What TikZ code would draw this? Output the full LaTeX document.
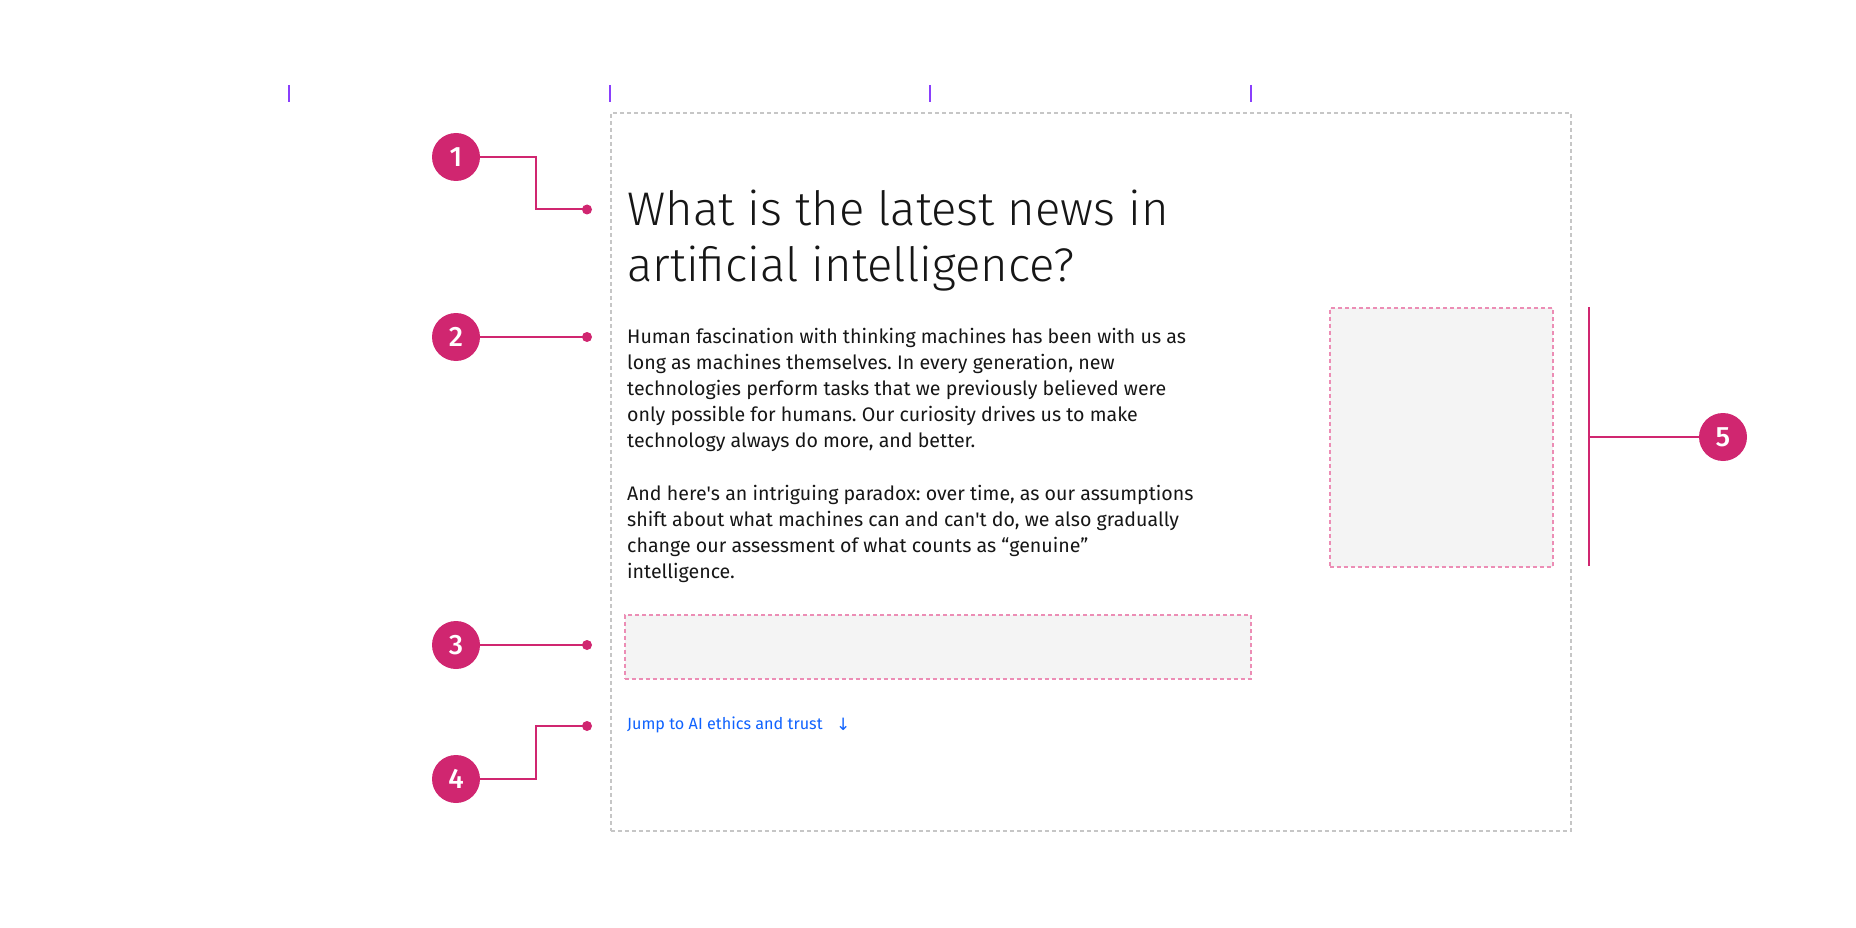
\documentclass[tikz,border=0pt]{standalone}
\usepackage{fontspec}
\setmainfont{Fira Sans}
\newfontfamily\headfont{Fira Sans Light}
\newfontfamily\numfont{Fira Sans Medium}
\newfontfamily\symfont{DejaVu Sans}
\definecolor{mag}{HTML}{D02670}
\definecolor{pinkdash}{HTML}{EC8DB5}
\definecolor{framegray}{HTML}{C6C6C6}
\definecolor{tickpurple}{HTML}{8A3FFC}
\definecolor{phfill}{HTML}{F4F4F4}
\definecolor{linkblue}{HTML}{0F62FE}
\definecolor{txt}{HTML}{161616}
\tikzset{
  callout/.style={circle,fill=mag,minimum size=48pt,inner sep=0pt,text=white,font=\numfont\fontsize{28}{28}\selectfont},
  leader/.style={draw=mag,line width=2pt},
  dotend/.style={circle,fill=mag,minimum size=10pt,inner sep=0pt},
  frame/.style={draw=framegray,line width=1.6pt,dash pattern=on 4pt off 3pt},
  placeholder/.style={draw=pinkdash,fill=phfill,line width=1.5pt,dash pattern=on 4pt off 3pt},
  tick/.style={draw=tickpurple,line width=1.3pt},
  headline/.style={anchor=base west,inner sep=0pt,text=txt,font=\headfont\fontsize{47.2}{56}\selectfont},
  bodyline/.style={anchor=base west,inner sep=0pt,text=txt,font=\frenchspacing\fontsize{19.6}{26}\selectfont},
}
\begin{document}
\begin{tikzpicture}[x=1pt,y=-1pt]
\useasboundingbox (0,0) rectangle (1856,928);
% ticks
\foreach \tx/\nm in {289/ta,610/tb,930/tc,1251/td}{
  \coordinate (\nm1) at (\tx,85); \coordinate (\nm2) at (\tx,102);
  \draw[tick] (\nm1) -- (\nm2);
}
% frame
\node[frame,minimum width=960pt,minimum height=718pt,inner sep=0pt,anchor=north west] (frame) at (610,112) {};
% heading
\node[headline] (h1) at (627,226) {What is the latest news in};
\node[headline] (h2) at (627,282) {artificial intelligence?};
% body
\node[bodyline] (b1) at (627,343) {Human fascination with thinking machines has been with us as};
\node[bodyline] (b2) at (627,369) {long as machines themselves. In every generation, new};
\node[bodyline] (b3) at (627,395) {technologies perform tasks that we previously believed were};
\node[bodyline] (b4) at (627,421) {only possible for humans. Our curiosity drives us to make};
\node[bodyline] (b5) at (627,447) {technology always do more, and better.};
\node[bodyline] (c1) at (627,500) {And here\textquotesingle s an intriguing paradox: over time, as our assumptions};
\node[bodyline] (c2) at (627,526) {shift about what machines can and can\textquotesingle t do, we also gradually};
\node[bodyline] (c3) at (627,552) {change our assessment of what counts as “genuine”};
\node[bodyline] (c4) at (627,578) {intelligence.};
% placeholders
\node[placeholder,minimum width=626pt,minimum height=64pt,inner sep=0pt,anchor=north west] (btn) at (624,614) {};
\node[placeholder,minimum width=223pt,minimum height=259pt,inner sep=0pt,anchor=north west] (img) at (1329,307) {};
% link
\node[anchor=base west,inner sep=0pt,text=linkblue,font=\fontsize{16.2}{20}\selectfont] (link) at (627,729) {Jump to AI ethics and trust};
\node[anchor=base west,inner sep=0pt,text=linkblue,font=\symfont\fontsize{17}{20}\selectfont] (arrow) at (836,730) {↓};
% callouts
\node[callout] (n1) at (456,157) {1};
\node[callout] (n2) at (456,337) {2};
\node[callout] (n3) at (456,645) {3};
\node[callout] (n4) at (456,779) {4};
\node[callout] (n5) at (1723,437) {5};
\node[dotend] (d1) at (587,209.5) {};
\node[dotend] (d2) at (587,337) {};
\node[dotend] (d3) at (587,645) {};
\node[dotend] (d4) at (587,726) {};
\draw[leader] (n1.east) -| (536,209.5) -- (d1.center);
\draw[leader] (n2.east) -- (d2.center);
\draw[leader] (n3.east) -- (d3.center);
\draw[leader] (n4.east) -| (536,726) -- (d4.center);
\coordinate (v1) at (1589,307);
\coordinate (v2) at (1589,566);
\coordinate (vm) at (1589,437);
\draw[leader,line width=2.4pt] (v1) -- (v2);
\draw[leader] (vm) -- (n5.west);
\end{tikzpicture}
\end{document}
